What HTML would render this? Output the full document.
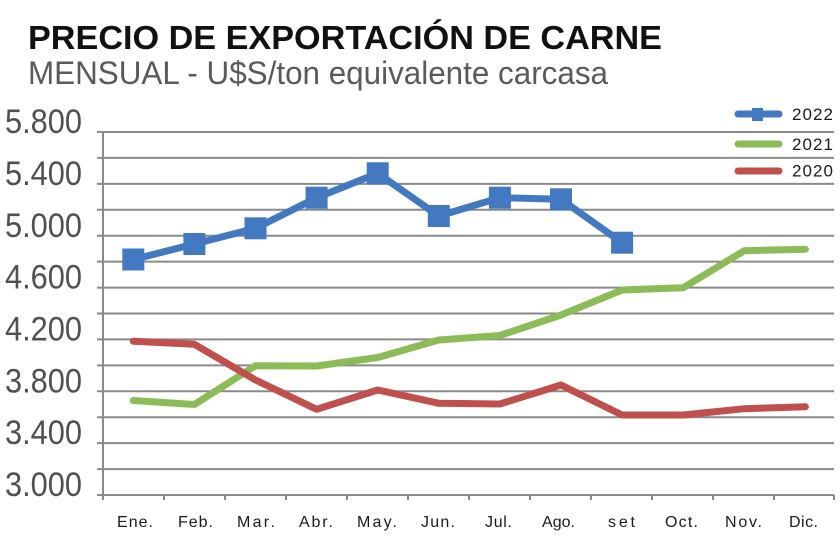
<!DOCTYPE html>
<html><head><meta charset="utf-8"><style>
html,body{margin:0;padding:0;background:#fff;}
svg{display:block;}
text{font-family:"Liberation Sans",sans-serif;}
</style></head><body>
<svg width="840" height="545" viewBox="0 0 840 545" xmlns="http://www.w3.org/2000/svg">
<rect width="840" height="545" fill="#fff"/>
<text x="28" y="49" font-size="33" font-weight="bold" fill="#111" textLength="634" lengthAdjust="spacingAndGlyphs">PRECIO DE EXPORTACIÓN DE CARNE</text>
<text x="28" y="84" font-size="32" fill="#5a5a5a" textLength="580" lengthAdjust="spacingAndGlyphs">MENSUAL - U$S/ton equivalente carcasa</text>
<g stroke="#8a8a8a" stroke-width="2">
<line x1="97" y1="132" x2="834" y2="132"/>
<line x1="97" y1="157.9" x2="834" y2="157.9"/>
<line x1="97" y1="183.9" x2="834" y2="183.9"/>
<line x1="97" y1="209.8" x2="834" y2="209.8"/>
<line x1="97" y1="235.7" x2="834" y2="235.7"/>
<line x1="97" y1="261.6" x2="834" y2="261.6"/>
<line x1="97" y1="287.6" x2="834" y2="287.6"/>
<line x1="97" y1="313.5" x2="834" y2="313.5"/>
<line x1="97" y1="339.4" x2="834" y2="339.4"/>
<line x1="97" y1="365.4" x2="834" y2="365.4"/>
<line x1="97" y1="391.3" x2="834" y2="391.3"/>
<line x1="97" y1="417.2" x2="834" y2="417.2"/>
<line x1="97" y1="443.1" x2="834" y2="443.1"/>
<line x1="97" y1="469.1" x2="834" y2="469.1"/>
<line x1="97" y1="495" x2="834" y2="495"/>
<line x1="103" y1="131" x2="103" y2="500"/>
<line x1="164" y1="495" x2="164" y2="500"/>
<line x1="225" y1="495" x2="225" y2="500"/>
<line x1="286" y1="495" x2="286" y2="500"/>
<line x1="347" y1="495" x2="347" y2="500"/>
<line x1="408" y1="495" x2="408" y2="500"/>
<line x1="469" y1="495" x2="469" y2="500"/>
<line x1="530" y1="495" x2="530" y2="500"/>
<line x1="591" y1="495" x2="591" y2="500"/>
<line x1="652" y1="495" x2="652" y2="500"/>
<line x1="713" y1="495" x2="713" y2="500"/>
<line x1="774" y1="495" x2="774" y2="500"/>
<line x1="834" y1="495" x2="834" y2="500"/>
</g>
<g font-size="34" fill="#505050">
<text x="5" y="133" textLength="77" lengthAdjust="spacingAndGlyphs">5.800</text>
<text x="5" y="185" textLength="77" lengthAdjust="spacingAndGlyphs">5.400</text>
<text x="5" y="237" textLength="77" lengthAdjust="spacingAndGlyphs">5.000</text>
<text x="5" y="288.5" textLength="77" lengthAdjust="spacingAndGlyphs">4.600</text>
<text x="5" y="340.5" textLength="77" lengthAdjust="spacingAndGlyphs">4.200</text>
<text x="5" y="392.5" textLength="77" lengthAdjust="spacingAndGlyphs">3.800</text>
<text x="5" y="444" textLength="77" lengthAdjust="spacingAndGlyphs">3.400</text>
<text x="5" y="496" textLength="77" lengthAdjust="spacingAndGlyphs">3.000</text>
</g>
<g font-size="16" fill="#1a1a1a" text-anchor="middle">
<text x="135" y="527" textLength="36" lengthAdjust="spacing">Ene.</text>
<text x="195.5" y="527" textLength="35" lengthAdjust="spacing">Feb.</text>
<text x="256" y="527" textLength="38" lengthAdjust="spacing">Mar.</text>
<text x="316" y="527" textLength="34" lengthAdjust="spacing">Abr.</text>
<text x="377" y="527" textLength="40" lengthAdjust="spacing">May.</text>
<text x="438" y="527" textLength="34" lengthAdjust="spacing">Jun.</text>
<text x="498.5" y="527" textLength="27" lengthAdjust="spacing">Jul.</text>
<text x="558.5" y="527" textLength="33" lengthAdjust="spacing">Ago.</text>
<text x="621.5" y="527" textLength="27" lengthAdjust="spacing">set</text>
<text x="681.5" y="527" textLength="33" lengthAdjust="spacing">Oct.</text>
<text x="743.5" y="527" textLength="37" lengthAdjust="spacing">Nov.</text>
<text x="803.5" y="527" textLength="29" lengthAdjust="spacing">Dic.</text>
</g>
<polyline fill="none" stroke="#8cbc57" stroke-width="7" stroke-linecap="round" stroke-linejoin="round" points="133.3,400.5 194.4,404.5 255.5,365.7 316.6,366 377.7,357.5 438.8,340 499.9,335.5 561,315 622.1,290 683.2,287.7 744.3,250.7 805.4,249.3"/>
<polyline fill="none" stroke="#c0504d" stroke-width="7" stroke-linecap="round" stroke-linejoin="round" points="133.3,341.3 194.4,344.3 255.5,380 316.6,409.3 377.7,390 438.8,403.3 499.9,404 561,385 622.1,415 683.2,415 744.3,408.7 805.4,406.7"/>
<polyline fill="none" stroke="#4279c0" stroke-width="7" stroke-linejoin="round" points="133.3,259.5 194.4,244 255.5,228.3 316.6,197.7 377.7,173.3 438.8,216 499.9,197.7 561,199.3 622.1,242.7"/>
<g fill="#4279c0">
<rect x="122.3" y="248.5" width="22" height="22"/>
<rect x="183.4" y="233" width="22" height="22"/>
<rect x="244.5" y="217.3" width="22" height="22"/>
<rect x="305.6" y="186.7" width="22" height="22"/>
<rect x="366.7" y="162.3" width="22" height="22"/>
<rect x="427.8" y="205" width="22" height="22"/>
<rect x="488.9" y="186.7" width="22" height="22"/>
<rect x="550" y="188.3" width="22" height="22"/>
<rect x="611.1" y="231.7" width="22" height="22"/>
</g>
<line x1="738" y1="114" x2="779" y2="114" stroke="#4279c0" stroke-width="7" stroke-linecap="round"/>
<rect x="752" y="108" width="11" height="13" fill="#4279c0"/>
<line x1="738" y1="144" x2="779" y2="144" stroke="#8cbc57" stroke-width="7" stroke-linecap="round"/>
<line x1="738" y1="171" x2="779" y2="171" stroke="#c0504d" stroke-width="7" stroke-linecap="round"/>
<g font-size="17" fill="#1a1a1a">
<text x="792" y="120" textLength="41" lengthAdjust="spacing">2022</text>
<text x="792" y="150" textLength="41" lengthAdjust="spacing">2021</text>
<text x="792" y="176.5" textLength="41" lengthAdjust="spacing">2020</text>
</g>
</svg>
</body></html>
